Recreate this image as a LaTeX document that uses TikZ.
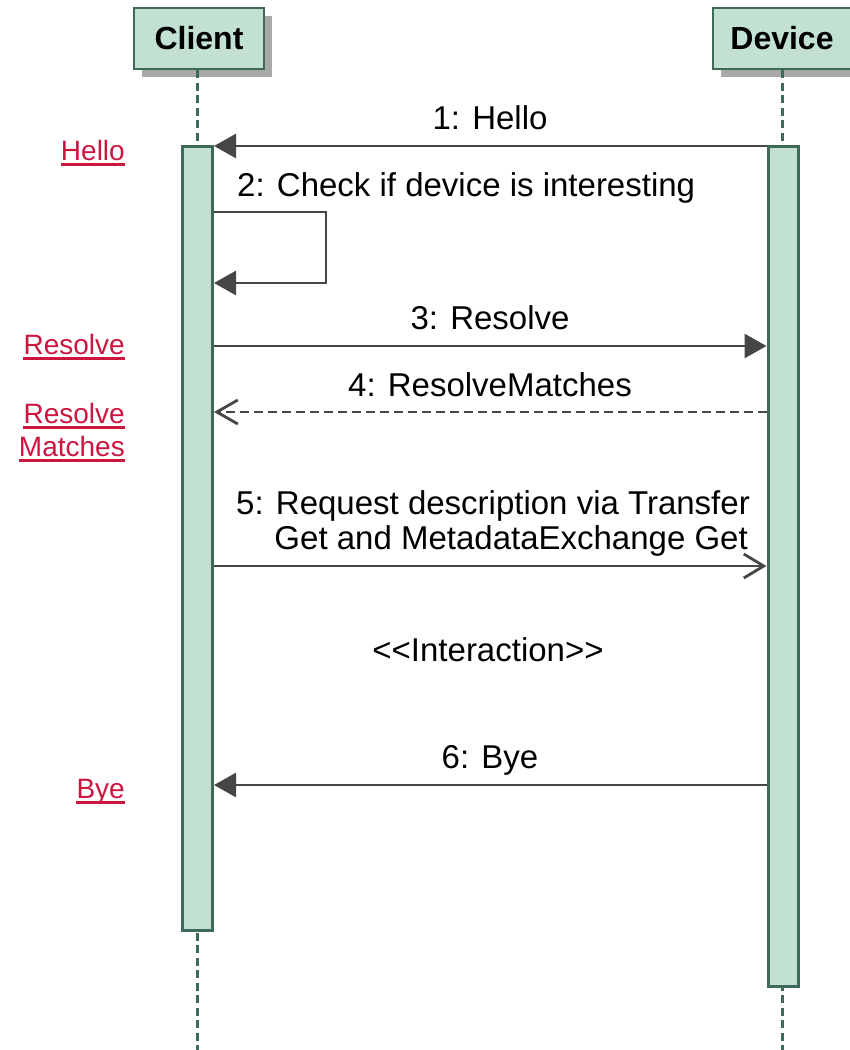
\documentclass[tikz,border=0pt]{standalone}
\usepackage{fontspec}
\setmainfont{Liberation Sans}
\usetikzlibrary{arrows.meta}

\definecolor{barfill}{HTML}{C2E1D2}
\definecolor{barline}{HTML}{3D6B57}
\definecolor{msgline}{HTML}{464646}
\definecolor{linkred}{HTML}{CC1640}
\definecolor{shadowgray}{HTML}{A8A8A8}

\tikzset{
  header/.style={draw=barline, fill=barfill, line width=2.7pt, minimum width=#1,
    minimum height=61pt, inner sep=0pt, font=\fontsize{32}{38}\selectfont\bfseries},
  lifeline/.style={draw=barline, line width=3pt, dash pattern=on 8pt off 4.5pt},
  activation/.style={draw=barline, fill=barfill, line width=3pt, minimum width=30pt,
    minimum height=#1, inner sep=0pt},
  msg/.style={draw=msgline, line width=2.8pt},
  sync/.style={msg, -{Triangle[length=22pt,width=24pt]}},
  async/.style={msg, -{Straight Barb[length=20pt,width=24pt]}},
  reply/.style={msg, dash pattern=on 9pt off 5pt, -{Straight Barb[length=21pt,width=24pt]}},
  msglabel/.style={font=\fontsize{33}{36}\selectfont, inner sep=0pt, anchor=base},
  linklabel/.style={text=linkred, font=\fontsize{28}{33}\selectfont, inner sep=0pt, anchor=base east},
  underbar/.style={draw=linkred, line width=2.4pt},
}

\newcommand{\linkunder}[1]{%
  \draw[underbar] ([yshift=-4.5pt]#1.base west) -- ([yshift=-4.5pt]#1.base east);}

\begin{document}
\begin{tikzpicture}[x=1pt, y=-1pt]
  \useasboundingbox (0,0) rectangle (850,1050);

  % participant heads with drop shadows
  \fill[shadowgray] (142,16) rectangle (272,77);
  \fill[shadowgray] (721,16) rectangle (859,77);
  \node[header=130pt] (client) at (199,38.5) {Client};
  \node[header=138pt] (device) at (782,38.5) {Device};

  % lifelines
  \coordinate (clientend) at (197,1050);
  \coordinate (deviceend) at (782,1050);
  \draw[lifeline] (client.south -| clientend) -- (clientend);
  \draw[lifeline] (device.south -| deviceend) -- (deviceend);

  % activation bars
  \node[activation=784pt] (cbar) at (197.5,538) {};
  \node[activation=840pt] (dbar) at (783,566) {};

  % message rows
  \coordinate (r1) at (0,146);
  \coordinate (r2a) at (0,212);
  \coordinate (r2b) at (0,283);
  \coordinate (loop) at (326,0);
  \coordinate (r3) at (0,346);
  \coordinate (r4) at (0,412);
  \coordinate (r5) at (0,566);
  \coordinate (r6) at (0,785);

  % 1: Hello
  \draw[sync] (dbar.west |- r1) -- (cbar.east |- r1);
  \node[msglabel] (m1) at (490,129) {1: Hello};

  % 2: self call
  \draw[sync] (cbar.east |- r2a) -- (loop |- r2a) -- (loop |- r2b) -- (cbar.east |- r2b);
  \node[msglabel, anchor=base west] (m2) at (237,196) {2: Check if device is interesting};

  % 3: Resolve
  \draw[sync] (cbar.east |- r3) -- (dbar.west |- r3);
  \node[msglabel] (m3) at (490,329) {3: Resolve};

  % 4: ResolveMatches
  \draw[reply] (dbar.west |- r4) -- (cbar.east |- r4);
  \node[msglabel] (m4) at (490,396) {4: ResolveMatches};

  % 5: description request
  \draw[async] (cbar.east |- r5) -- (dbar.west |- r5);
  \node[msglabel, anchor=base east] (m5a) at (750,514) {5: Request description via Transfer};
  \node[msglabel, anchor=base east] (m5b) at (748,549) {Get and MetadataExchange Get};

  % interaction note
  \node[msglabel] (inter) at (488,661) {<{}<Interaction>{}>};

  % 6: Bye
  \draw[sync] (dbar.west |- r6) -- (cbar.east |- r6);
  \node[msglabel] (m6) at (490,768) {6: Bye};

  % side links
  \node[linklabel] (lhello) at (125,160) {Hello};
  \linkunder{lhello}
  \node[linklabel] (lresolve) at (125,354) {Resolve};
  \linkunder{lresolve}
  \node[linklabel] (lrm1) at (125,423) {Resolve};
  \linkunder{lrm1}
  \node[linklabel] (lrm2) at (125,456) {Matches};
  \linkunder{lrm2}
  \node[linklabel] (lbye) at (125,798) {Bye};
  \linkunder{lbye}
\end{tikzpicture}
\end{document}
